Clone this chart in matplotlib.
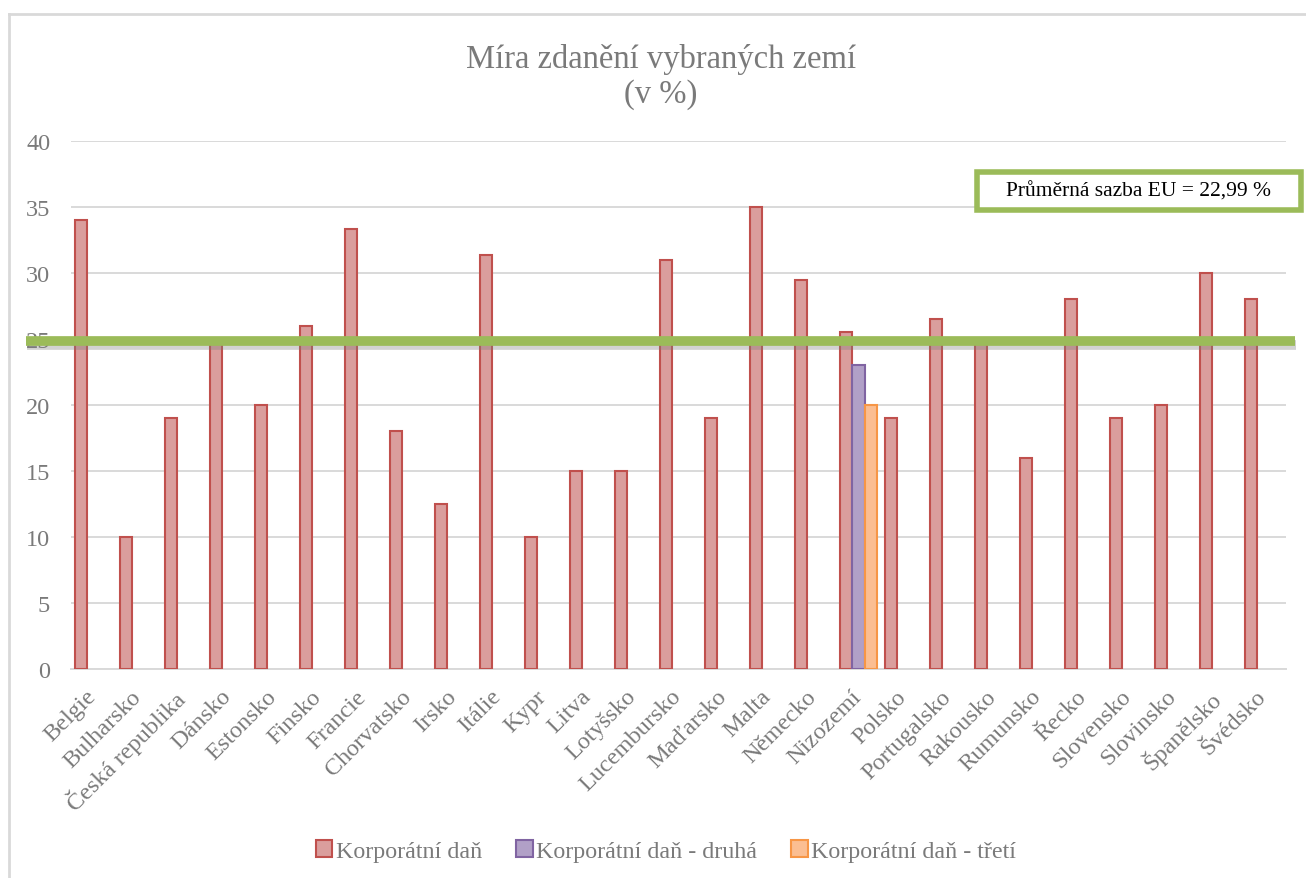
import numpy as np
import matplotlib
matplotlib.use("Agg")
import matplotlib.pyplot as plt
from matplotlib.patches import Rectangle
from matplotlib.lines import Line2D
from matplotlib.transforms import ScaledTranslation
import matplotlib.patheffects as pe

plt.rcParams['font.family'] = ['Liberation Serif', 'DejaVu Serif']

zeme = ["Belgie", "Bulharsko", "Česká republika", "Dánsko", "Estonsko", "Finsko",
        "Francie", "Chorvatsko", "Irsko", "Itálie", "Kypr", "Litva", "Lotyšsko",
        "Lucembursko", "Maďarsko", "Malta", "Německo", "Nizozemí", "Polsko",
        "Portugalsko", "Rakousko", "Rumunsko", "Řecko", "Slovensko", "Slovinsko",
        "Španělsko", "Švédsko"]
dan = [34, 10, 19, 25, 20, 26, 33.3, 18, 12.5, 31.4, 10, 15, 15, 31, 19, 35, 29.5,
       25.5, 19, 26.5, 25, 16, 28, 19, 20, 30, 28]
dan_druha = {"Nizozemí": 23}
dan_treti = {"Nizozemí": 20}
prumer_cara = 24.85
prumer_text = "Průměrná sazba EU = 22,99 %"

W, H = 1306, 879
fig = plt.figure(figsize=(W / 100, H / 100), dpi=100)
ax = fig.add_axes([71 / W, 1 - 670 / H, 1215 / W, 528 / H])

x = np.arange(len(zeme))
w = 0.27
druha = [dan_druha.get(z, np.nan) for z in zeme]
treti = [dan_treti.get(z, np.nan) for z in zeme]

ax.bar(x - w, dan, w, color="#DA9E9D", edgecolor="#C0504D", linewidth=1.5,
       label="Korporátní daň", zorder=3)
ax.bar(x, druha, w, color="#B1A0C7", edgecolor="#8064A2", linewidth=1.5,
       label="Korporátní daň - druhá", zorder=3)
ax.bar(x + w, treti, w, color="#FBBE92", edgecolor="#F79646", linewidth=1.5,
       label="Korporátní daň - třetí", zorder=3)

ax.set_xlim(-0.5, len(zeme) - 0.5)
ax.set_ylim(0, 40)
ax.set_yticks(range(0, 41, 5))
ax.set_xticks(x)
ax.set_xticklabels(zeme, rotation=45, ha="right", va="top")
ax.tick_params(axis="both", length=0, labelsize=17.5, labelcolor="#7A7A7A")
ax.tick_params(axis="y", pad=15)
ax.tick_params(axis="x", pad=12)
posun = ScaledTranslation(7 / 100, 0, fig.dpi_scale_trans)
for lab in ax.get_xticklabels():
    lab.set_transform(lab.get_transform() + posun)
ax.grid(axis="y", color="#D9D9D9", linewidth=1.4, zorder=0)
for s in ["left", "right", "top"]:
    ax.spines[s].set_visible(False)
ax.spines["bottom"].set_color("#D9D9D9")
ax.spines["bottom"].set_linewidth(1.4)

# zelena cara prumeru
ax.axhline(prumer_cara, xmin=-0.037, xmax=1.007, color="#9BBB59", linewidth=7,
           clip_on=False, zorder=5, solid_capstyle="butt",
           path_effects=[pe.SimpleLineShadow(offset=(1, -3), shadow_color="gray", alpha=0.35),
                         pe.Normal()])

# rámeček s popiskem
fig.patches.append(Rectangle((977 / W, 1 - 211 / H), 324 / W, 38 / H,
                             transform=fig.transFigure, facecolor="white",
                             edgecolor="#9BBB59", linewidth=4, zorder=6))
fig.text(1139 / W, 1 - 192 / H, prumer_text, ha="center", va="center",
         fontsize=15.5, color="black", zorder=7)

fig.text(661 / W, 1 - 77 / H, "Míra zdanění vybraných zemí\n(v %)", ha="center",
         va="center", fontsize=23.5, color="#7A7A7A", linespacing=1.2)

fig.legend(loc="center", bbox_to_anchor=(666 / W, 1 - 852 / H), ncol=3,
           frameon=False, fontsize=17.3, labelcolor="#7A7A7A", handlelength=0.7,
           handleheight=0.7, handletextpad=0.15, columnspacing=1.4)

# okraj grafu
fig.add_artist(Line2D([9 / W, 9 / W], [0, 1 - 15 / H], transform=fig.transFigure,
                      color="#D9D9D9", linewidth=2))
fig.add_artist(Line2D([9 / W, 1], [1 - 15 / H, 1 - 15 / H], transform=fig.transFigure,
                      color="#D9D9D9", linewidth=2))

fig.savefig("out.png", dpi=100)
